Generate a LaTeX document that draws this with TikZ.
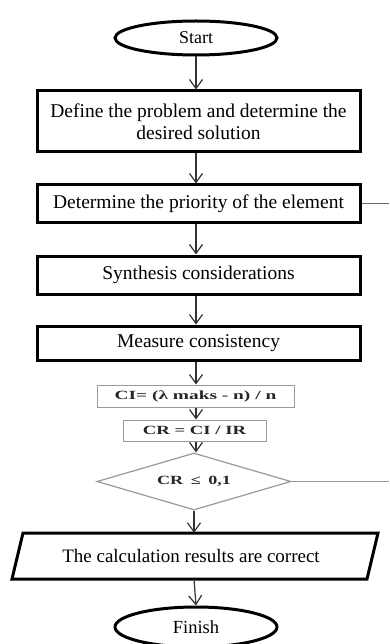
\documentclass[tikz,border=0pt]{standalone}
\usepackage{fontspec}
\setmainfont{Liberation Serif}
\usetikzlibrary{arrows.meta,shapes.geometric}
\newcommand{\widetext}[2]{\scalebox{#1}[1]{\bfseries #2}}
\begin{document}
\begin{tikzpicture}[x=1pt,y=-1pt,
  mainbox/.style={draw=black,line width=3pt,minimum width=323pt,inner sep=0pt,font=\fontsize{19.5}{22}\selectfont,align=center},
  term/.style={draw=black,line width=3pt,ellipse,minimum width=162pt,minimum height=34pt,inner sep=0pt,font=\fontsize{18}{20}\selectfont},
  calcbox/.style={draw=gray!80,line width=1pt,inner sep=0pt,font=\fontsize{12.5}{15}\selectfont,text=black!85},
  flow/.style={draw=black!80,line width=1.2pt,-{Straight Barb[length=9pt,width=13pt,line width=1.2pt]}},
]
\useasboundingbox (0,0) rectangle (389,644);
\node[term] (start) at (196,38) {Start};
\node[mainbox,minimum height=61pt] (def) at (198.5,121.5) {Define the problem and determine the\\desired solution};
\node[mainbox,minimum height=37pt] (prio) at (198.5,203.5) {Determine the priority of the element};
\node[mainbox,minimum height=38pt] (syn) at (198.5,275) {Synthesis considerations};
\node[mainbox,minimum height=34pt] (meas) at (198.5,343) {Measure consistency};
\node[calcbox,minimum width=197pt,minimum height=22pt] (ci) at (195.5,396) {\widetext{1.55}{CI= (λ maks - n) / n}};
\node[calcbox,minimum width=143pt,minimum height=21pt] (cr) at (194.5,430.5) {\widetext{1.5}{CR = CI / IR}};
\node[diamond,draw=gray!80,line width=1.2pt,minimum width=194pt,minimum height=57pt,inner sep=0pt] (dec) at (194,481.5) {};
\node[font=\fontsize{12.5}{15}\selectfont,text=black!85,inner sep=0pt] (dectext) at (dec.center) {\widetext{1.45}{CR\, ≤\, 0,1}};
\coordinate (pTL) at (23,533);
\coordinate (pTR) at (378,533);
\coordinate (pBR) at (367,579);
\coordinate (pBL) at (12,579);
\draw[line width=3pt,line join=miter] (pTL) -- (pTR) -- (pBR) -- (pBL) -- cycle;
\node[font=\fontsize{19}{22}\selectfont,inner sep=0pt,minimum height=46pt] (res) at (191,556) {The calculation results are correct};
\node[term,minimum height=40pt,font=\fontsize{18.5}{20}\selectfont] (fin) at (196,627) {Finish};
\coordinate (blueend) at (389,203.5);
\coordinate (decend) at (389,481.5);
\draw[flow] (start) -- (start |- def.north);
\draw[flow] (def.south -| start) -- (start |- prio.north);
\draw[flow] (prio.south -| start) -- (start |- syn.north);
\draw[flow] (syn.south -| start) -- (start |- meas.north);
\draw[flow] (meas.south -| start) -- (start |- ci.north);
\draw[flow] (ci.south -| start) -- (start |- cr.north);
\draw[flow] (cr.south -| start) -- (start |- dec.north);
\draw[flow] (dec.south) -- (dec.south |- res.north);
\draw[flow] (dec.south |- res.south) -- (fin.north);
\draw[draw={rgb,255:red,60;green,120;blue,200},line width=1.2pt] (prio.east) -- (blueend);
\draw[draw=gray!80,line width=1.2pt] (dec.east) -- (decend);
\end{tikzpicture}
\end{document}
